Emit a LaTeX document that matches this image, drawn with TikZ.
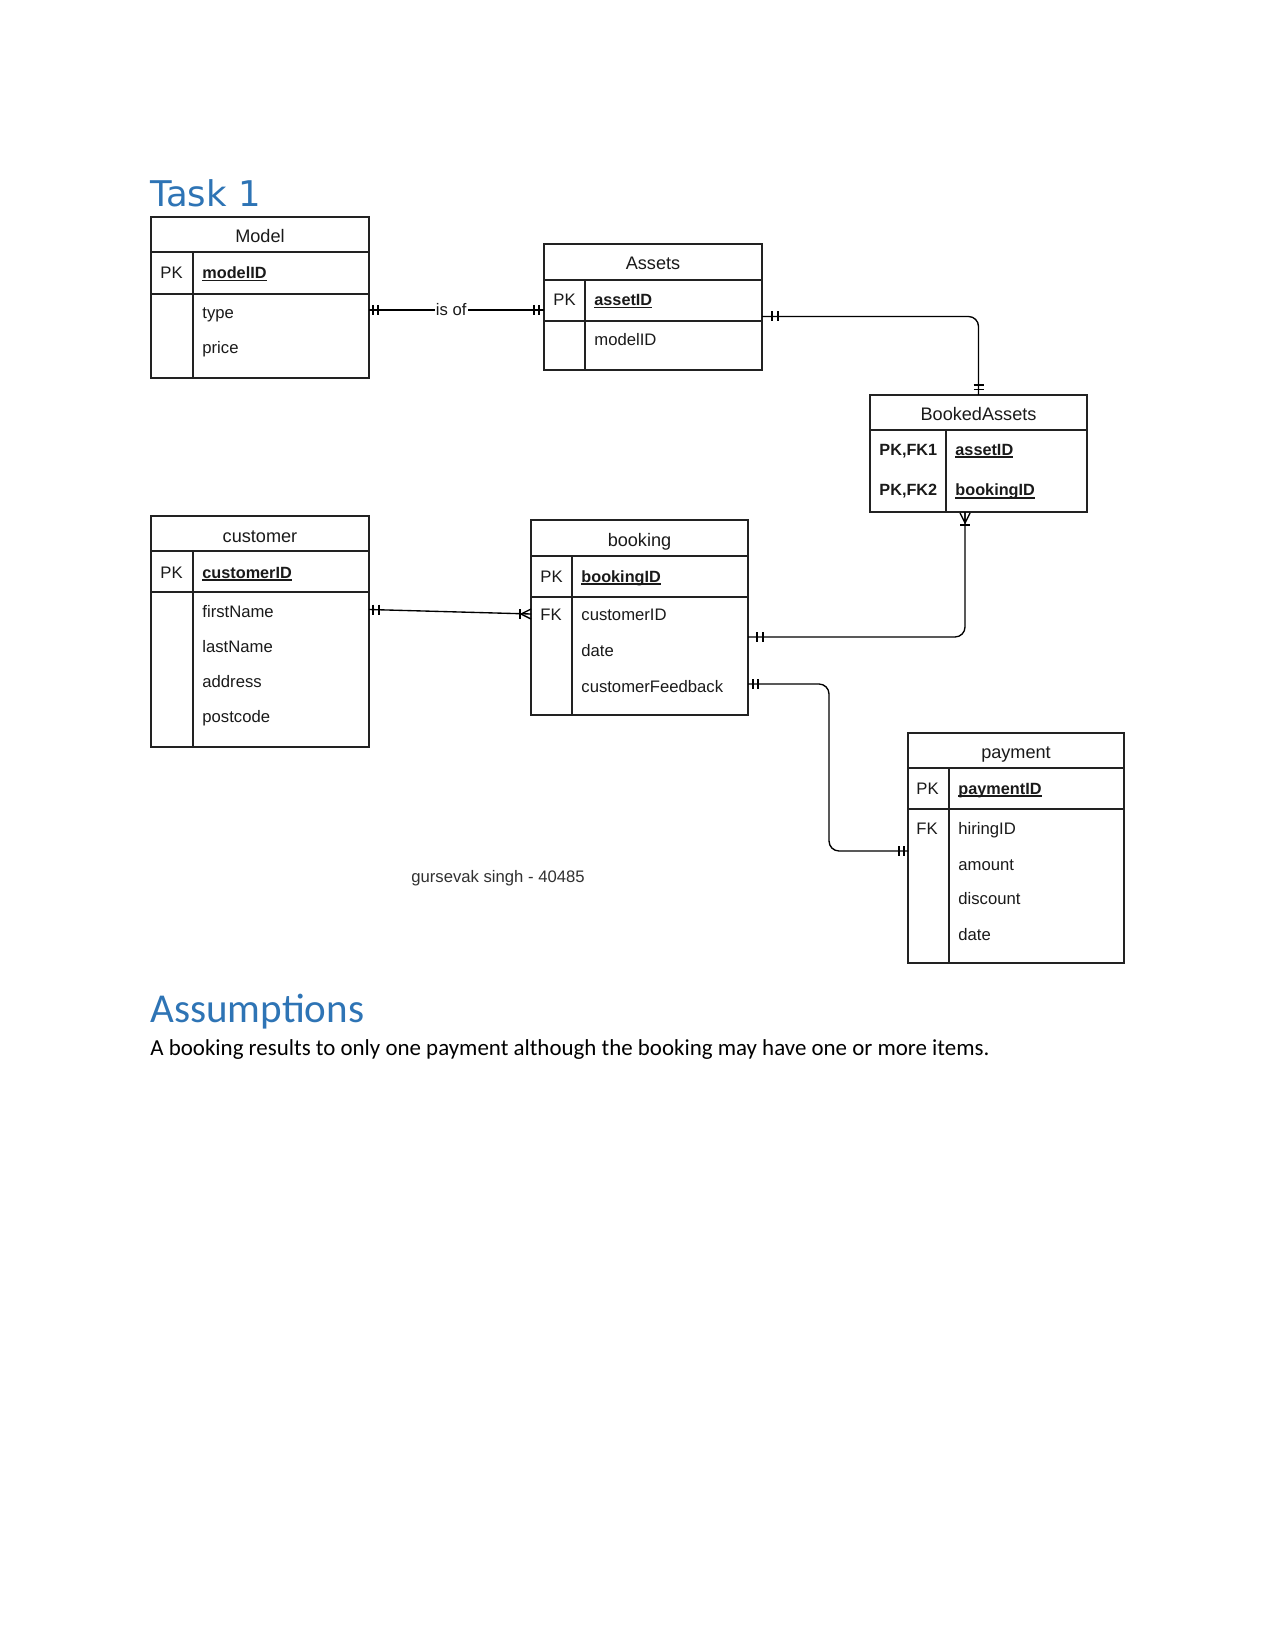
\documentclass[tikz,border=0pt]{standalone}
\usepackage{fontspec}
\setmainfont{Liberation Sans}
\newfontfamily\carl{Carlito}
\newfontfamily\dvs{DejaVu Sans}
\usetikzlibrary{calc}
\definecolor{bordc}{HTML}{222222}
\definecolor{txtc}{HTML}{1A1A1A}
\definecolor{headc}{HTML}{2E74B5}
\newcommand\ulpk[1]{\setbox0\hbox{#1}\rlap{\rule[-1.2pt]{\wd0}{0.55pt}}\box0}
\begin{document}
\begin{tikzpicture}[x=0.48pt,y=-0.48pt,
  ent/.style={draw=bordc, line width=1.4pt, outer sep=0pt, inner sep=0pt, anchor=north west},
  septhick/.style={draw=bordc, line width=1.4pt},
  septhin/.style={draw=bordc, line width=0.55pt},
  ttl/.style={font=\fontsize{8.7}{10}\selectfont, text=txtc, anchor=base, inner sep=0pt},
  fld/.style={font=\fontsize{8}{10}\selectfont, text=txtc, anchor=base west, inner sep=0pt},
  pkf/.style={fld, font=\fontsize{7.8}{10}\selectfont\bfseries},
  conn/.style={draw=black, line width=0.65pt},
  rconn/.style={conn, rounded corners=4.8pt},
  mk/.style={draw=black, line width=0.65pt},
]
\useasboundingbox[fill=white] (0,0) rectangle (1275,1650);

% headings
\node[font=\dvs\fontsize{17}{20}\selectfont, text=headc, anchor=base west, inner sep=0pt] (task) at (150,207) {Task 1};
\node[font=\carl\fontsize{19.7}{23}\selectfont, text=headc, anchor=base west, inner sep=0pt] (assum) at (150,1022) {Assumptions};
\node[font=\carl\fontsize{11}{14}\selectfont, text=black, anchor=base west, inner sep=0pt] (body) at (150,1055) {A booking results to only one payment although the booking may have one or more items.};
\node[font=\fontsize{8}{10}\selectfont, text=txtc!90, anchor=base, inner sep=0pt] (author) at (498,882) {gursevak singh - 40485};

% Model
\node[ent, minimum width=218*0.48pt, minimum height=161*0.48pt] (model) at (151,217) {};
\draw[septhick] (model.west |- 0,252) -- (model.east |- 0,252);
\draw[septhin] (model.west |- 0,294) -- (model.east |- 0,294);
\draw[septhin] (193,252) -- (model.south -| 193,0);
\node[ttl] (modelT) at (260,243) {Model};
\node[fld] (modelPK) at (160,279) {PK};
\node[pkf] (modelF1) at (202,279) {\ulpk{modelID}};
\node[fld] (modelF2) at (202,319) {type};
\node[fld] (modelF3) at (202,354) {price};

% Assets
\node[ent, minimum width=218*0.48pt, minimum height=126*0.48pt] (assets) at (544,244) {};
\draw[septhick] (assets.west |- 0,280) -- (assets.east |- 0,280);
\draw[septhin] (assets.west |- 0,321) -- (assets.east |- 0,321);
\draw[septhin] (585,280) -- (assets.south -| 585,0);
\node[ttl] (assetsT) at (653,270) {Assets};
\node[fld] (assetsPK) at (553,306) {PK};
\node[pkf] (assetsF1) at (594,306) {\ulpk{assetID}};
\node[fld] (assetsF2) at (594,346) {modelID};

% BookedAssets
\node[ent, minimum width=217*0.48pt, minimum height=117*0.48pt] (booked) at (870,395) {};
\draw[septhick] (booked.west |- 0,430) -- (booked.east |- 0,430);
\draw[septhin] (946,430) -- (booked.south -| 946,0);
\node[ttl] (bookedT) at (978.5,421) {BookedAssets};
\node[pkf] (bookedK1) at (879,455) {PK,FK1};
\node[pkf] (bookedF1) at (955,455) {\ulpk{assetID}};
\node[pkf] (bookedK2) at (879,496) {PK,FK2};
\node[pkf] (bookedF2) at (955,496) {\ulpk{bookingID}};

% customer
\node[ent, minimum width=218*0.48pt, minimum height=231*0.48pt] (customer) at (151,516) {};
\draw[septhick] (customer.west |- 0,551) -- (customer.east |- 0,551);
\draw[septhin] (customer.west |- 0,592) -- (customer.east |- 0,592);
\draw[septhin] (193,551) -- (customer.south -| 193,0);
\node[ttl] (customerT) at (260,542) {customer};
\node[fld] (customerPK) at (160,578) {PK};
\node[pkf] (customerF1) at (202,578) {\ulpk{customerID}};
\node[fld] (customerF2) at (202,617) {firstName};
\node[fld] (customerF3) at (202,652) {lastName};
\node[fld] (customerF4) at (202,687) {address};
\node[fld] (customerF5) at (202,722) {postcode};

% booking
\node[ent, minimum width=217*0.48pt, minimum height=195*0.48pt] (booking) at (531,520) {};
\draw[septhick] (booking.west |- 0,556) -- (booking.east |- 0,556);
\draw[septhin] (booking.west |- 0,597) -- (booking.east |- 0,597);
\draw[septhin] (572,556) -- (booking.south -| 572,0);
\node[ttl] (bookingT) at (639.5,546) {booking};
\node[fld] (bookingPK) at (540,582) {PK};
\node[pkf] (bookingF1) at (581,582) {\ulpk{bookingID}};
\node[fld] (bookingFK) at (540,620) {FK};
\node[fld] (bookingF2) at (581,620) {customerID};
\node[fld] (bookingF3) at (581,656) {date};
\node[fld] (bookingF4) at (581,692) {customerFeedback};

% payment
\node[ent, minimum width=216*0.48pt, minimum height=230*0.48pt] (payment) at (908,733) {};
\draw[septhick] (payment.west |- 0,768) -- (payment.east |- 0,768);
\draw[septhin] (payment.west |- 0,809) -- (payment.east |- 0,809);
\draw[septhin] (949,768) -- (payment.south -| 949,0);
\node[ttl] (paymentT) at (1016,758) {payment};
\node[fld] (paymentPK) at (916,794) {PK};
\node[pkf] (paymentF1) at (958,794) {\ulpk{paymentID}};
\node[fld] (paymentFK) at (916,834) {FK};
\node[fld] (paymentF2) at (958,834) {hiringID};
\node[fld] (paymentF3) at (958,870) {amount};
\node[fld] (paymentF4) at (958,904) {discount};
\node[fld] (paymentF5) at (958,940) {date};

% connectors
\draw[conn] (model.east |- 0,310) -- node[pos=0.47, fill=white, inner xsep=0.5pt, inner ysep=1pt, font=\fontsize{8}{10}\selectfont, text=txtc] (isof) {is of} (assets.west |- 0,310);
\draw[rconn] (assets.east |- 0,316.5) -| (booked.north);
\draw[rconn] (booked.south -| 965,0) |- (booking.east |- 0,637);
\draw[conn] (customer.east |- 0,609.5) -- (booking.west |- 0,614);
\draw[rconn] (booking.east |- 0,684) -- (829,684) -- (829,851) -- (payment.west |- 0,851);

% markers
% model-assets
\draw[mk] (373,305) -- (373,315) (378,305) -- (378,315);
\draw[mk] (534,305) -- (534,315) (539,305) -- (539,315);
% assets-booked
\draw[mk] (772,311.5) -- (772,321.5) (778,311.5) -- (778,321.5);
\draw[mk] (973.5,385) -- (983.5,385) (973.5,389.5) -- (983.5,389.5);
% booked-booking
\draw[mk] (960,513) -- (965,523) -- (970,513) (965,513) -- (965,523);
\draw[mk] (960,525) -- (970,525);
\draw[mk] (757,632) -- (757,642) (763,632) -- (763,642);
% customer-booking
\draw[mk] (373,604.5) -- (373,614.5) (379,604.5) -- (379,614.5);
\draw[mk] (531,609) -- (521,614) -- (531,619);
\draw[mk] (520,609) -- (520,619);
% booking-payment
\draw[mk] (753,679) -- (753,689) (758,679) -- (758,689);
\draw[mk] (899,846) -- (899,856) (904,846) -- (904,856);
\end{tikzpicture}
\end{document}
